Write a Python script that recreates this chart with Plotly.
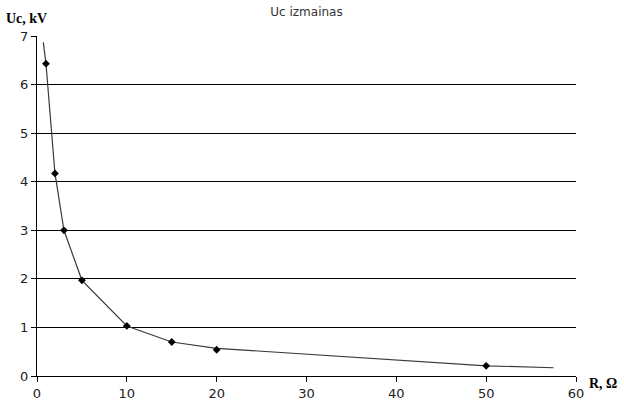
import plotly.graph_objects as go

# Measured points
R_points = [1, 2, 3, 5, 10, 15, 20, 50]
U_points = [6.43, 4.17, 3.0, 1.97, 1.03, 0.70, 0.54, 0.21]

# Connecting curve
R_curve = [0.7, 1, 2, 3, 5, 10, 15, 20, 50, 57.5]
U_curve = [6.87, 6.43, 4.17, 3.0, 1.97, 1.03, 0.70, 0.57, 0.21, 0.17]

x_ticks = [0, 10, 20, 30, 40, 50, 60]
y_ticks = [0, 1, 2, 3, 4, 5, 6, 7]
grid_vals = [1, 2, 3, 4, 5, 6]

fig = go.Figure()
fig.add_trace(go.Scatter(x=R_curve, y=U_curve, mode="lines",
                         line=dict(color="#3a3a3a", width=1.2),
                         showlegend=False, hoverinfo="skip"))
fig.add_trace(go.Scatter(x=R_points, y=U_points, mode="markers",
                         marker=dict(symbol="diamond", size=6, color="black"),
                         showlegend=False))
fig.add_trace(go.Scatter(x=[None], y=[None], yaxis="y2", showlegend=False))

tickfont = dict(family="DejaVu Sans", size=13, color="#222")

L, R, T, B = 37, 48, 36, 33
W, H = 624, 409
pw = W - L - R
ph = H - T - B

def px(x):
    return (x - L) / pw

def py(y):
    return (H - B - y) / ph

fig.update_layout(
    width=W, height=H,
    margin=dict(l=L, r=R, t=T, b=B, autoexpand=False),
    paper_bgcolor="white", plot_bgcolor="white",
    title=dict(text="Uc izmainas", x=0.5, xref="paper", y=1 - 12 / H, yref="container",
               xanchor="center", yanchor="middle",
               font=dict(family="DejaVu Sans", size=12, color="#333")),
    xaxis=dict(range=[0, 60], tickvals=x_ticks, showgrid=False, zeroline=False,
               showline=True, linecolor="black", linewidth=1,
               ticks="outside", ticklen=5, tickcolor="black",
               tickfont=tickfont, automargin=False),
    yaxis=dict(range=[0, 7], tickvals=y_ticks, showgrid=False, zeroline=False,
               showline=True, linecolor="black", linewidth=1,
               ticks="outside", ticklen=5, tickcolor="black",
               tickfont=tickfont, automargin=False),
    yaxis2=dict(range=[0, 7], tickvals=grid_vals, overlaying="y", side="left",
                showgrid=True, gridcolor="black", gridwidth=1,
                showticklabels=False, ticks="", zeroline=False, showline=False,
                automargin=False),
    annotations=[
        dict(text="<b>Uc, kV</b>", x=px(4), y=py(19), xref="paper", yref="paper",
             showarrow=False, xanchor="left", yanchor="middle",
             font=dict(family="Liberation Serif", size=14, color="black")),
        dict(text="<b>R, Ω</b>", x=px(587), y=py(383), xref="paper", yref="paper",
             showarrow=False, xanchor="left", yanchor="middle",
             font=dict(family="Liberation Serif", size=14, color="black")),
    ],
)

fig.write_html("out.html", config={"displayModeBar": False},
               post_script="document.body.style.margin='0px';document.body.style.overflow='hidden';")
